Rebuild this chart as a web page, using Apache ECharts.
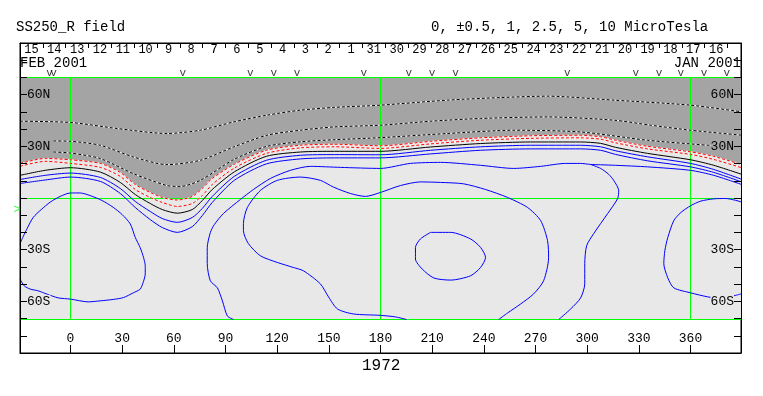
<!DOCTYPE html>
<html><head><meta charset="utf-8">
<script src="https://cdn.jsdelivr.net/npm/echarts@6/dist/echarts.min.js"></script>
<style>html,body{margin:0;padding:0;background:#fff}#c{width:763px;height:396px}</style>
</head><body><div id="c"></div>
<script>
// ---------- axis / tick data ----------
const lonTicks = [0,30,60,90,120,150,180,210,240,270,300,330,360];
const latTicks = [-80,-70,-60,-50,-40,-30,-20,-10,0,10,20,30,40,50,60,70,80];
const latLabels = [-60,-30,30,60];
const dayTickLon = [381.5,368.2,355.0,341.7,328.5,315.2,302.0,288.7,275.5,262.2,249.0,235.7,222.5,209.2,196.0,182.7,169.5,156.2,143.0,129.7,116.5,103.2,90.0,76.7,63.5,50.2,37.0,23.7,10.5,-2.8,-16.0];
const dayLabelLon = [374.9,361.6,348.4,335.1,321.9,308.6,295.4,282.1,268.9,255.6,242.4,229.1,215.9,202.6,189.4,176.1,162.9,149.6,136.4,123.1,109.9,96.6,83.4,70.1,56.9,43.6,30.4,17.1,3.9,-9.4,-22.6];
const dayLabels = ['16','17','18','19','20','21','22','23','24','25','26','27','28','29','30','31','1','2','3','4','5','6','7','8','9','10','11','12','13','14','15'];
const obsLon = [-12.2,-9.9,65.2,104.4,118.0,131.6,170.3,196.4,210.0,223.6,288.5,328.2,341.7,354.4,367.9,381.1];
const obsLat = 72.6;
const earthMark = [[-31.0,-7.0]];
const lonMin = -29.32, lonMax = 389.32, latMin = -90, latMax = 90, mapTop = 70, mapBottom = -70;
const guideLon = [0,180,360];
const guideLat = [0,70,-70];

// ---------- contours [lon, lat] ----------
const negOne = [[-29.3,20.3],[-14.7,23.2],[0,22.4],[17.3,20.3],[28.9,15.1],[37.6,8.1],[46.3,3.5],[53.3,0.6],[62.0,-0.9],[70.7,1.2],[76.5,5.8],[82.3,11.6],[95.1,19.8],[113.7,27.9],[133.5,30.8],[153.3,31.4],[180,30.5],[209.1,33.1],[238.1,35.1],[267.2,36.3],[296.2,36.6],[307.8,35.7],[316.5,33.7],[335.1,30.2],[360,27.0],[373.5,24.4],[390,19.5]];
const negHalf = [[-29.3,18.6],[-14.7,21.5],[0,20.3],[17.3,18.0],[28.9,12.8],[37.6,5.2],[46.3,0.6],[53.3,-2.3],[62.0,-4.6],[70.7,-2.9],[76.5,1.7],[82.3,8.1],[95.1,17.6],[113.7,26.1],[133.5,29.3],[153.3,29.9],[180,29.0],[209.1,31.6],[238.1,33.7],[267.2,34.8],[296.2,35.1],[307.8,34.3],[316.5,32.2],[335.1,28.7],[360,25.5],[373.5,22.6],[390,17.7]];
const neutral = [[-29.3,13.4],[-14.7,16.3],[0,17.8],[17.3,15.3],[28.9,9.3],[37.6,2.3],[46.3,-2.9],[53.3,-6.4],[62.0,-8.5],[70.7,-6.4],[76.5,-1.2],[82.3,5.2],[95.1,15.4],[113.7,24.4],[133.5,26.9],[153.3,27.3],[180,27.3],[209.1,29.8],[238.1,31.8],[267.2,32.7],[296.2,32.7],[307.8,31.9],[316.5,29.6],[335.1,26.1],[360,22.4],[373.5,19.2],[390,13.9]];
const posHalf = [[-29.3,11.0],[-14.7,13.4],[0,14.7],[17.3,12.2],[28.9,5.8],[37.6,-1.7],[46.3,-7.5],[53.3,-11.6],[62.0,-13.8],[70.7,-11.0],[76.5,-5.8],[82.3,1.2],[95.1,12.8],[113.7,22.1],[133.5,25.0],[153.3,25.4],[180,25.3],[209.1,27.9],[238.1,29.9],[267.2,30.8],[296.2,30.8],[307.8,29.9],[316.5,27.6],[335.1,24.1],[360,20.3],[373.5,16.8],[390,11.0]];
const posOne = [[-29.3,8.7],[-14.7,10.7],[0,12.4],[17.3,9.9],[28.9,2.9],[37.6,-5.2],[46.3,-12.2],[53.3,-16.8],[62.0,-19.6],[70.7,-16.3],[76.5,-9.9],[82.3,-2.3],[95.1,10.5],[113.7,20.0],[133.5,22.9],[153.3,23.5],[180,23.5],[209.1,25.8],[238.1,27.9],[267.2,28.7],[296.2,28.7],[307.8,27.9],[316.5,25.5],[335.1,21.8],[360,18.3],[373.5,15.1],[390,9.5]];
const posTwoHalf = [[94.7,-70],[91.1,-68.0],[88.2,-59.2],[85.3,-51.7],[81.2,-47.6],[79.4,-37.7],[79.4,-28.5],[81.2,-19.7],[83.5,-15.1],[88.8,-8.7],[98.6,-0.6],[106.2,5.2],[116.1,11.6],[127.7,16.3],[139.3,18.6],[156.8,18.0],[180,17.4],[197.4,20.3],[214.9,20.9],[238.1,19.2],[257.3,17.4],[273.0,18.6],[287.5,20.3],[296.2,20.3],[302.0,19.7],[307.8,19.5],[316.5,19.2],[335.1,18.3],[360,16.3],[373.5,13.4],[390,8.0]];
const posTwoHalfB = [[302.0,19.7],[307.8,17.4],[312.5,14.0],[315.4,10.5],[318.3,4.6],[317.7,0],[311.9,-8.7],[303.8,-20.3],[299.7,-27.3],[298.6,-37.7],[298.6,-49.4],[296.2,-57.5],[290.4,-63.9],[283.5,-70]];
const posFive = [[195.1,-70],[188.7,-68.5],[180,-67.6],[164.3,-66.8],[155.0,-63.9],[149.8,-56.9],[145.1,-49.4],[135.2,-41.8],[129.4,-39.9],[120.1,-37.0],[110.2,-33.1],[103.3,-26.1],[100.4,-18.6],[100.4,-14.5],[102.7,-5.2],[110.2,4.6],[120.1,10.5],[133.5,12.4],[145.1,10.5],[152.7,6.6],[162.5,2.9],[171.3,1.2],[180,3.5],[191.6,7.5],[203.2,9.6],[214.9,9.3],[228.2,8.5],[241.0,5.2],[253.8,0.6],[265.4,-5.2],[273.0,-12.8],[277.0,-24.4],[277.6,-34.3],[274.7,-47.6],[268.9,-55.2],[261.4,-61.0],[253.8,-66.2],[248.6,-70]];
const loopWest = [[-29.3,-26.1],[-27.5,-22.1],[-25.2,-17.4],[-21.7,-11.0],[-17.0,-6.4],[-11.8,-2.1],[-6.0,1.2],[0,3.2],[5.6,3.2],[11.4,1.7],[18.4,-1.2],[24.8,-5.1],[30.0,-9.3],[34.7,-14.7],[37.6,-22.5],[40.5,-28.5],[42.4,-34.1],[43.4,-38.9],[43.4,-43.7],[42.3,-48.2],[40.5,-52.4],[36.4,-54.6],[30.8,-57.3],[24.8,-58.4],[17.3,-59.2],[10.3,-59.8],[0,-58.2],[-7.1,-57.5],[-13.7,-55.3],[-18.8,-53.4],[-23.4,-52.4],[-26.9,-50.5],[-29.3,-46.6]];
const loopSmall = [[209.1,-19.6],[220.8,-19.6],[232.3,-23.4],[238.1,-28.3],[241.0,-34.1],[238.1,-39.9],[232.3,-44.7],[220.8,-47.2],[211.0,-46.0],[204.2,-40.8],[200.3,-35.0],[200.3,-28.3],[203.2,-23.4],[209.1,-19.6]];
const loopEast = [[390,-2.1],[380.5,0],[373.5,-0.2],[366.0,-1.5],[360.2,-4.1],[354.4,-8.1],[350.3,-12.8],[346.8,-22.6],[345.1,-30.2],[344.5,-37.7],[346.8,-45.9],[350.3,-51.7],[360.2,-54.6],[370.0,-56.9],[377.6,-57.8],[386.3,-56.0],[390,-55.0]];
const negTwoHalf = [[-9.9,26.9],[0,26.3],[17.3,23.1],[36.6,14.3],[56.0,7.5],[63.8,7.0],[75.4,10.5],[94.7,22.5],[114.1,30.2],[133.5,32.8],[152.9,34.0],[180,35.2],[218.8,37.6],[257.5,39.5],[296.2,38.5],[335.0,33.7],[369.9,30.8],[376,30.3]];
const negFive = [[-9.9,33.3],[0,33.1],[17.3,30.8],[36.6,24.0],[56.0,19.6],[75.4,22.1],[94.7,29.8],[114.1,36.6],[133.5,39.5],[152.9,41.4],[180,42.4],[209.1,44.7],[238.1,46.3],[276.9,47.2],[315.6,45.3],[336.9,42.4],[360,39.5],[390,36.6]];
const negTen = [[-29.3,44.7],[0,44.0],[27.0,40.5],[56.0,37.6],[75.4,39.5],[94.7,44.3],[114.1,48.2],[133.5,51.1],[152.9,52.7],[180,54.0],[218.8,56.9],[249.7,58.4],[276.9,59.2],[315.6,56.9],[360,54.0],[390,50.1]];

// ---------- styling ----------
const MONO = 'Liberation Mono';
const DARK = '#a4a4a4', LIGHT = '#e8e8e8', GREEN = '#00ff00';
const SM = 0.25;
const MAP = { xAxisIndex: 2, yAxisIndex: 2 };

function contour(data, color, dashed, z) {
  return Object.assign({
    type: 'line', data: data, smooth: SM, symbol: 'none', silent: true, z: z,
    lineStyle: { color: color, width: 1, type: dashed ? [3, 2] : 'solid' }
  }, MAP);
}
function underlay(data, z) {
  return Object.assign({
    type: 'line', data: data, smooth: SM, symbol: 'none', silent: true, z: z,
    lineStyle: { color: '#ffffff', width: 1 }
  }, MAP);
}

const series = [
  Object.assign({ type: 'line', data: negOne, smooth: SM, symbol: 'none', silent: true, z: 2,
    lineStyle: { opacity: 0 }, areaStyle: { color: DARK, opacity: 1, origin: 'end' } }, MAP),
  Object.assign({ type: 'line', data: [], z: 4, silent: true,
    markLine: { silent: true, symbol: ['none', 'none'], label: { show: false },
      lineStyle: { color: GREEN, width: 1, type: 'solid' }, emphasis: { disabled: true },
      data: guideLat.map(v => ({ yAxis: v })).concat(
        guideLon.map(v => [{ coord: [v, mapBottom] }, { coord: [v, mapTop] }])) } }, MAP),
  underlay(negTen, 5), contour(negTen, '#000000', true, 6),
  underlay(negFive, 5), contour(negFive, '#000000', true, 6),
  underlay(negTwoHalf, 5), contour(negTwoHalf, '#000000', true, 6),
  underlay(negOne, 5), contour(negOne, '#ff0000', true, 6),
  underlay(negHalf, 5), contour(negHalf, '#ff0000', true, 6),
  contour(neutral, '#000000', false, 6),
  contour(posHalf, '#0000ff', false, 6),
  contour(posOne, '#0000ff', false, 6),
  contour(posTwoHalf, '#0000ff', false, 6),
  contour(posTwoHalfB, '#0000ff', false, 6),
  contour(posFive, '#0000ff', false, 6),
  contour(loopWest, '#0000ff', false, 6),
  contour(loopSmall, '#0000ff', false, 6),
  contour(loopEast, '#0000ff', false, 6),
  { type: 'scatter', xAxisIndex: 0, yAxisIndex: 0, data: obsLon.map(l => [l, obsLat]), symbolSize: 1, z: 7, silent: true,
    itemStyle: { color: 'rgba(0,0,0,0)' },
    label: { show: true, position: 'inside', formatter: 'v', color: '#000', fontFamily: MONO, fontSize: 11 } },
  { type: 'scatter', xAxisIndex: 0, yAxisIndex: 0, data: earthMark, symbolSize: 1, z: 7, silent: true, clip: false,
    itemStyle: { color: 'rgba(0,0,0,0)' },
    label: { show: true, position: 'inside', formatter: '>', color: GREEN, fontFamily: MONO, fontSize: 12 } }
];

const txt = (size) => ({ fontFamily: MONO, fontSize: size, fontWeight: 'normal', color: '#000' });
const yAxisBase = (pos) => ({
  type: 'value', gridIndex: 0, position: pos, min: latMin, max: latMax, z: 10,
  axisLine: { show: true, onZero: false, lineStyle: { color: '#000', width: 1 } },
  axisTick: { show: true, inside: true, length: 7, customValues: latTicks, lineStyle: { color: '#000' } },
  axisLabel: { show: true, inside: true, margin: 7, customValues: latLabels,
    formatter: v => v > 0 ? '{n|' + v + 'N}' : '{s|' + (-v) + 'S}',
    rich: { n: Object.assign({ backgroundColor: DARK }, txt(13)), s: Object.assign({ backgroundColor: LIGHT }, txt(13)) } },
  splitLine: { show: false }
});

const option = {
  animation: false,
  backgroundColor: '#ffffff',
  title: [
    { text: 'SS250_R field', left: 16, top: 20, padding: 0, textStyle: txt(14) },
    { text: '0, \u00b10.5, 1, 2.5, 5, 10 MicroTesla', left: 431, top: 20, padding: 0, textStyle: txt(14) },
    { text: 'FEB 2001', left: 20, top: 56, padding: 0, textStyle: txt(14) },
    { text: 'JAN 2001', right: 22, top: 56, padding: 0, textStyle: txt(14) },
    { text: '1972', left: 362, top: 358, padding: 0, textStyle: txt(16) }
  ],
  grid: [
    { left: 20, right: 22, top: 43, bottom: 43, containLabel: false, outerBoundsMode: 'none',
      show: true, borderColor: '#000', borderWidth: 1, backgroundColor: '#ffffff' },
    { left: 20, right: 22, top: 77.5, bottom: 76.5, containLabel: false, outerBoundsMode: 'none',
      show: true, borderWidth: 0, borderColor: 'rgba(0,0,0,0)', backgroundColor: LIGHT }
  ],
  xAxis: [
    { type: 'value', gridIndex: 0, position: 'bottom', min: lonMin, max: lonMax, z: 10,
      axisLine: { show: true, onZero: false, lineStyle: { color: '#000', width: 1 } },
      axisTick: { show: true, inside: true, length: 8, customValues: lonTicks, lineStyle: { color: '#000' } },
      axisLabel: { show: true, inside: true, margin: 8, customValues: lonTicks, formatter: v => String(v), ...txt(13) },
      splitLine: { show: false } },
    { type: 'value', gridIndex: 0, position: 'top', min: lonMin, max: lonMax, z: 10,
      axisLine: { show: true, onZero: false, lineStyle: { color: '#000', width: 1 } },
      axisTick: { show: true, inside: true, length: 5, customValues: dayTickLon, lineStyle: { color: '#000' } },
      axisLabel: { show: true, inside: true, margin: 1, customValues: dayLabelLon,
        formatter: v => dayLabels[dayLabelLon.indexOf(v)], ...txt(12) },
      splitLine: { show: false } },
    { type: 'value', gridIndex: 1, min: lonMin, max: lonMax, show: false, splitLine: { show: false } }
  ],
  yAxis: [yAxisBase('left'), yAxisBase('right'),
    { type: 'value', gridIndex: 1, min: mapBottom, max: mapTop, show: false, splitLine: { show: false } }],
  series: series
};

const chart = echarts.init(document.getElementById('c'), null, { renderer: 'canvas' });
chart.setOption(option);
</script>
</body></html>
